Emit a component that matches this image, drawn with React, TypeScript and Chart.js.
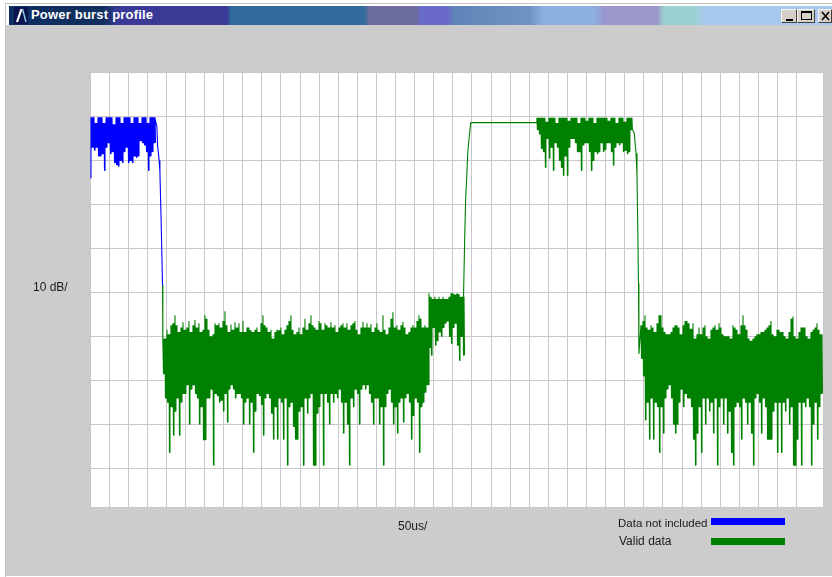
import React, { useEffect, useRef } from "react";
import { Chart, registerables } from "chart.js";

Chart.register(...registerables);

const titleText = "Power burst profile";
const yAxisLabel = "10 dB/";
const xAxisLabel = "50us/";
const notIncludedLabel = "Data not included";
const validLabel = "Valid data";

const sampleStepUs = 5.236;
const timeMaxUs = 1919;
const levelMaxDb = 0.1;
const levelMinDb = -98.8;

const blueStartUs = 0;
const blueTop = [-10.2,-10.2,-10.2,-11.5,-10.2,-10.2,-10.2,-11.5,-10.2,-10.2,-10.2,-10.2,-11.8,-10.2,-10.2,-10.2,-11.5,-10.2,-10.2,-10.2,-10.2,-11.5,-10.2,-10.2,-10.2,-11.5,-10.2,-10.2,-10.2,-11.5,-10.2,-10.2,-10.2];
const blueLow = [-24,-17,-17.7,-17,-19,-19,-18.5,-22.3,-17,-16,-18.5,-18,-20.5,-21,-21.3,-20,-20.5,-18,-17,-20.5,-20,-20.5,-19,-19.3,-19,-15.5,-16,-16.5,-18,-22.3,-19,-18,-16];
const blueFallTimes = [170, 175, 177, 181, 183, 186, 190];
const blueFallLevels = [-10.4, -12.3, -16.6, -20, -22.5, -33, -48.5];

const edgeATimes = [190, 190.5];
const edgeALevels = [-48.5, -62];

const floorAStartUs = 191;
const floorATop = [
  -60.5,-60.5,-58.5,-59.5,-57.5,-57,-55.2,-57.5,-59,-58,-56.8,-58.5,-58,-56.5,-59,-57.5,-56.3,-58,-57,-59,-58.5,-55.2,-56,-58.5,-60,-59.5,-57,-57.5,-57,-58,-56.5,-54.3,-57.5,-59,-57.3,-58.5,-56.8,-58,-57,-59,-56.5,-59,-58,-58,
  -58.6,-59,-58.5,-58,-59,-57,-55.2,-57.5,-58,-59,-58.5,-60.5,-59,-58.5,-58.6,-58,-59.5,-58.5,-57.5,-56.5,-55.2,-58.5,-59.5,-59,-58,-59.5,-58,-56,-58.5,-57,-55.2,-57.5,-58,-58.5,-56.5,-57,-58.5,-57,-57.5,-58,-56.8,-58,-57.5,-59,-58,
  -57.5,-57,-58,-57,-58.5,-57.5,-57,-56.5,-58.5,-59.5,-58,-56.7,-58,-57,-58,-57.2,-59,-58,-57,-58.5,-59,-55.2,-58.5,-59.5,-58,-56,-54.5,-58,-57.5,-58.5,-57.5,-56.7,-58,-59.5,-59,-58,-57.5,-58,-56.5,-55.2,-56,-58,-57.5,-58,
];
const floorABottom = [
  -68.5,-74,-75,-86.4,-76,-82.5,-77,-74,-82.5,-75,-73,-73,-71,-80,-72,-71,-73,-74,-80,-76,-83.5,-83.5,-74,-74,-72,-89.3,-73,-73.5,-75,-74.5,-77,-73,-79.5,-72,-71,-72,-74,-73,-73,-74,-80,-75,-74,-80,
  -75,-86.4,-77,-73,-73.5,-75.5,-82.5,-74,-73,-74,-77.5,-83.4,-76,-83.4,-74,-75,-83.4,-74,-89.3,-76,-75,-80.5,-83.4,-83.4,-77,-76,-89.3,-74,-77.5,-74,-73,-89.3,-89.3,-77.5,-76,-73,-89.3,-73,-75,-80,-73,-75,-73,-74,-72,
  -75,-82,-75,-80,-89.3,-74,-76,-72,-73,-80,-72,-71,-72,-71,-73,-75,-80,-74,-74,-80,-76,-89.3,-76,-73,-72,-75,-80,-76,-82,-75,-74,-79.5,-74,-73,-75,-83.4,-78,-74,-75,-86.4,-76,-75,-72.7,-71,
];

const midStartUs = 887.5;
const midTop = [-50.2,-51,-51.5,-51,-51.5,-51,-51.5,-51,-51.5,-51.5,-51,-50.2,-50.2,-50.5,-50.2,-50.4,-51,-51];
const midBottom = [-62.5,-64.3,-58,-62,-61,-59,-60,-58,-57,-56.5,-60,-61.6,-58,-57,-62,-65.5,-60,-64.3];

const riseTimes = [978, 981, 983.5, 986.5, 989, 994, 997, 1170];
const riseLevels = [-50.5, -37.5, -28.6, -23.4, -18.2, -13.6, -11.4, -11.4];

const burstStartUs = 1170;
const burstTop = [-10.3,-10.3,-10.3,-10.3,-10.3,-11.2,-10.3,-10.3,-10.3,-10.3,-11.5,-10.3,-10.3,-10.3,-10.3,-10.3,-11,-10.3,-10.3,-10.3,-10.3,-11.5,-10.3,-10.3,-10.3,-11,-10.3,-10.3,-10.3,-11.5,-10.3,-10.3,-10.3,-10.3,-10.3,-10.3,-11,-10.3,-10.3,-10.3,-11.5,-10.3,-10.3,-10.3,-11.2,-10.3,-10.3,-10.3];
const burstBottom = [-13,-14,-17.3,-18,-21.6,-15,-19.5,-17,-22.3,-16,-17,-20,-21.6,-23.4,-19,-23.4,-17,-15,-15,-16,-18,-18,-22.3,-16.5,-16,-16,-18,-22.3,-20,-18,-18.5,-18,-16,-18,-17.5,-16,-16,-18,-21.1,-17,-16,-16.5,-16,-18,-17.7,-18.5,-18,-13];

const fallTimes = [1417, 1425, 1429.5, 1432, 1434, 1436, 1437];
const fallLevels = [-12.3, -13.9, -18.4, -23.4, -35, -48, -64];

const floorBStartUs = 1442.5;
const floorBTop = [
  -57.5,-56.5,-55.2,-58,-58.5,-57.5,-58,-59,-57,-55.2,-55.2,-58,-59,-59.5,-59.5,-59,-58,-57.5,-57.5,-58,-59.5,-57.5,-56.5,-56.5,-57,-58.3,-57,-60.5,-59.5,-58,-59.5,-58,-57.5,-60,-60.5,-58.5,-58,-57.5,-58.5,-57,-58,-59.5,-60,-60,-60,
  -60.5,-57.5,-58,-58.5,-59.5,-57.5,-55.2,-57.5,-58.5,-60.5,-61,-60.5,-60,-59.5,-59.5,-59,-59,-58.5,-58,-57.5,-56.5,-59.5,-60,-58.5,-58.5,-59,-59,-60,-60.5,-59,-56,-55.5,-60,-60.5,-59,-58,-58,-58,-60,-60.5,-59,-58.5,-58,-57,-58.5,-59.5,
];
const floorBBottom = [
  -65,-69,-79,-75,-83.4,-74,-83.4,-75,-76,-86.4,-76,-82,-74,-72,-71,-74,-80,-82,-80,-75,-72,-76,-73,-74,-74,-76,-83.4,-89.3,-82,-76,-86.4,-74,-80,-74,-77,-75,-82,-74,-89.3,-76,-74,-80,-74,-82,-77,
  -86.4,-89.3,-76,-75,-76,-83.4,-74,-75,-80,-75,-82,-89.3,-74,-73,-75,-82,-74,-76,-83.4,-83.4,-83.4,-77,-75,-86.4,-75,-86.4,-75,-77,-74,-80,-76,-89.3,-89.3,-83.4,-75,-89.3,-75,-76,-74,-76,-89.3,-80,-75,-83.4,-76,-73,
];

type Pt = { x: number; y: number };

const pairs = (times: number[], levels: number[]): Pt[] =>
  times.map((t, i) => ({ x: t, y: levels[i] }));

// One sweep per sample: out to the peak and dip as read, then back through the
// span that this sample shares with the next one, which makes the trace's solid body.
const sweep = (startUs: number, tops: number[], bottoms: number[]): Pt[] =>
  tops.flatMap((top, i) => {
    const next = Math.min(i + 1, tops.length - 1);
    return [
      { x: startUs + i * sampleStepUs, y: top },
      { x: startUs + (i + 0.25) * sampleStepUs, y: bottoms[i] },
      { x: startUs + (i + 0.5) * sampleStepUs, y: Math.min(top, tops[next]) },
      { x: startUs + (i + 0.75) * sampleStepUs, y: Math.max(bottoms[i], bottoms[next]) },
    ];
  });

const notIncludedData: Pt[] = [
  ...sweep(blueStartUs, blueTop, blueLow).slice(1),
  ...pairs(blueFallTimes, blueFallLevels),
];

const validData: Pt[] = [
  ...pairs(edgeATimes, edgeALevels),
  ...sweep(floorAStartUs, floorATop, floorABottom),
  ...sweep(midStartUs, midTop, midBottom),
  ...pairs(riseTimes, riseLevels),
  ...sweep(burstStartUs, burstTop, burstBottom),
  ...pairs(fallTimes, fallLevels),
  ...sweep(floorBStartUs, floorBTop, floorBBottom),
];

const plotBackground = {
  id: "plotBackground",
  beforeDraw(chart: any) {
    const { ctx, chartArea: a } = chart;
    ctx.save();
    ctx.fillStyle = "#ffffff";
    ctx.fillRect(a.left, a.top, a.right - a.left, a.bottom - a.top);
    ctx.restore();
  },
};

const textStyle: React.CSSProperties = {
  position: "absolute",
  fontFamily: "'Liberation Sans', Arial, sans-serif",
  fontSize: 12,
  lineHeight: "14px",
  color: "#1a1a1a",
  whiteSpace: "nowrap",
};

const bevel: React.CSSProperties = {
  position: "absolute",
  top: 9,
  height: 14,
  background: "#d4d0c8",
  boxSizing: "border-box",
  borderTop: "1px solid #f4f4f4",
  borderLeft: "1px solid #f4f4f4",
  borderRight: "1px solid #404040",
  borderBottom: "1px solid #404040",
};

const titleGradient =
  "linear-gradient(90deg, #0c2f60 0px, #12305f 95px, #3a3a96 108px, #3a3a96 218px, #336b9c 222px, #336b9c 355px, #6c6c9f 360px, #6c6c9f 408px, #6a6ac9 412px, #6a6ac9 438px, #5f86b8 445px, #6f93c4 520px, #8db0e2 535px, #8db0e2 585px, #9b97cc 595px, #9b97cc 648px, #9bd0d0 655px, #9bd0d0 685px, #a6c9ee 695px, #a6c9ee 823px)";

export default function App() {
  const canvasRef = useRef<HTMLCanvasElement | null>(null);

  useEffect(() => {
    const chart = new Chart(canvasRef.current as HTMLCanvasElement, {
      type: "line",
      data: {
        datasets: [
          {
            label: notIncludedLabel,
            data: notIncludedData,
            borderColor: "#0000ff",
            borderWidth: 1.1,
            borderJoinStyle: "bevel",
            pointRadius: 0,
            tension: 0,
          },
          {
            label: validLabel,
            data: validData,
            borderColor: "#008000",
            borderWidth: 1.1,
            borderJoinStyle: "bevel",
            pointRadius: 0,
            tension: 0,
          },
        ],
      },
      options: {
        responsive: false,
        animation: false,
        layout: { padding: { left: 90, right: 9, top: 72, bottom: 70 } },
        plugins: { legend: { display: false }, tooltip: { enabled: false } },
        scales: {
          x: {
            type: "linear",
            min: 0,
            max: timeMaxUs,
            grid: { color: "#c8c8c8", lineWidth: 1, drawTicks: false },
            border: { display: false },
            ticks: { display: false, stepSize: 50, autoSkip: false, maxTicksLimit: 60 },
          },
          y: {
            type: "linear",
            min: levelMinDb,
            max: levelMaxDb,
            grid: { color: "#c8c8c8", lineWidth: 1, drawTicks: false },
            border: { display: false },
            ticks: { display: false, stepSize: 10, autoSkip: false },
          },
        },
      },
      plugins: [plotBackground],
    } as any);
    return () => chart.destroy();
  }, []);

  return (
    <div style={{ position: "fixed", left: 0, top: 0, width: 832, height: 577, background: "#ffffff", overflow: "hidden" }}>
      <div style={{ position: "absolute", left: 5, top: 3, right: 0, height: 1, background: "#c4c4c4" }} />
      <div style={{ position: "absolute", left: 5, top: 3, width: 1, bottom: 0, background: "#c4c4c4" }} />
      <div style={{ position: "absolute", left: 6, top: 25, right: 0, height: 551, background: "#cccccc" }} />
      <canvas ref={canvasRef} width={832} height={577} style={{ position: "absolute", left: 0, top: 0, display: "block" }} />
      <div style={{ position: "absolute", left: 9, top: 6, width: 823, height: 19, background: titleGradient }} />
      <svg width={14} height={17} style={{ position: "absolute", left: 14, top: 7 }}>
        <rect width={14} height={17} fill="#0a1450" />
        <path d="M3 15 L7.5 2" fill="none" stroke="#ffffff" strokeWidth={2.2} />
        <path d="M8.5 2 L12 15" fill="none" stroke="#8fd0f0" strokeWidth={1.4} />
      </svg>
      <div
        style={{
          ...textStyle,
          left: 31,
          top: 8,
          color: "#ffffff",
          fontWeight: 700,
          fontSize: 13,
          letterSpacing: 0.2,
        }}
      >
        {titleText}
      </div>
      <div style={{ ...bevel, left: 781, width: 16 }}>
        <div style={{ position: "absolute", left: 4, bottom: 1, width: 7, height: 2, background: "#000" }} />
      </div>
      <div style={{ ...bevel, left: 797, width: 18 }}>
        <div style={{ position: "absolute", left: 3, top: 1, width: 11, height: 9, border: "1px solid #000", borderTopWidth: 2, boxSizing: "border-box" }} />
      </div>
      <div style={{ ...bevel, left: 818, width: 14 }}>
        <svg width={12} height={12} style={{ position: "absolute", left: 0, top: 0 }}>
          <path d="M3 2 L10 10 M10 2 L3 10" stroke="#000" strokeWidth={1.6} />
        </svg>
      </div>
      <div style={{ ...textStyle, left: 33, top: 280 }}>{yAxisLabel}</div>
      <div style={{ ...textStyle, left: 398, top: 519 }}>{xAxisLabel}</div>
      <div style={{ ...textStyle, left: 618, top: 516, fontSize: 11.5 }}>{notIncludedLabel}</div>
      <div style={{ position: "absolute", left: 711, top: 518, width: 74, height: 7, background: "#0000ff" }} />
      <div style={{ ...textStyle, left: 619, top: 534 }}>{validLabel}</div>
      <div style={{ position: "absolute", left: 711, top: 538, width: 74, height: 7, background: "#008000" }} />
    </div>
  );
}
